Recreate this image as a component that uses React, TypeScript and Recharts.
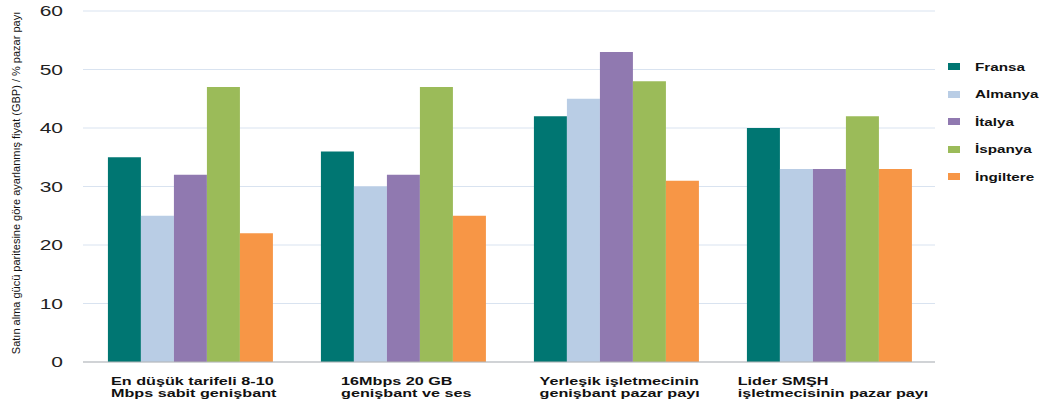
import React from "react";
import { BarChart, Bar, XAxis, YAxis, CartesianGrid, Legend, Label } from "recharts";

const categories = [
  ["En düşük tarifeli 8-10", "Mbps sabit genişbant"],
  ["16Mbps 20 GB", "genişbant ve ses"],
  ["Yerleşik işletmecinin", "genişbant pazar payı"],
  ["Lider SMŞH", "işletmecisinin pazar payı"],
];
const fransa = [35, 36, 42, 40];
const almanya = [25, 30, 45, 33];
const italya = [32, 32, 53, 33];
const ispanya = [47, 47, 48, 42];
const ingiltere = [22, 25, 31, 33];
const yTicks = [0, 10, 20, 30, 40, 50, 60];
const yLabel = "Satın alma gücü paritesine göre ayarlanmış fiyat (GBP) / % pazar payı";

const series = [
  { key: "fransa", name: "Fransa", color: "#007672", values: fransa },
  { key: "almanya", name: "Almanya", color: "#b9cde5", values: almanya },
  { key: "italya", name: "İtalya", color: "#9079b0", values: italya },
  { key: "ispanya", name: "İspanya", color: "#9bbb59", values: ispanya },
  { key: "ingiltere", name: "İngiltere", color: "#f79646", values: ingiltere },
];

const data = categories.map((c, i) => {
  const row: Record<string, any> = { cat: c.join(" "), idx: i };
  series.forEach((s) => (row[s.key] = s.values[i]));
  return row;
});

const FONT = "'Liberation Sans', Arial, sans-serif";
const SX = 1.5;

let ctx: CanvasRenderingContext2D | null = null;
function measure(text: string, font: string) {
  if (!ctx) ctx = document.createElement("canvas").getContext("2d");
  if (!ctx) return text.length * 6;
  ctx.font = font;
  return ctx.measureText(text).width;
}

const XTick = (props: any) => {
  const { x, y, payload } = props;
  const lines = categories[payload.index] || [payload.value];
  const font = `bold 10.5px ${FONT}`;
  const w = Math.max(...lines.map((l: string) => measure(l, font))) * SX;
  const left = x - w / 2 + 2;
  return (
    <g transform={`translate(${left},${y}) scale(${SX},1)`}>
      {lines.map((l: string, i: number) => (
        <text key={i} x={0} y={15 + i * 12} fontFamily={FONT} fontWeight="bold" fontSize={10.8} fill="#111">
          {l}
        </text>
      ))}
    </g>
  );
};

const YTick = (props: any) => {
  const { x, y, payload } = props;
  return (
    <g transform={`translate(${x},${y}) scale(${SX},1)`}>
      <text x={0} y={0} dy="0.36em" textAnchor="end" fontFamily={FONT} fontSize={14} fill="#222">
        {payload.value}
      </text>
    </g>
  );
};

const LegendContent = () => (
  <div style={{ fontFamily: FONT }}>
    {series.map((s) => (
      <div key={s.key} style={{ height: 27.5, display: "flex", alignItems: "center", position: "relative" }}>
        <div style={{ width: 12, height: 7, background: s.color, marginLeft: 2 }} />
        <div
          style={{
            position: "absolute",
            left: 29,
            fontSize: 10.5,
            fontWeight: "bold",
            color: "#111",
            transform: "scaleX(1.45)",
            transformOrigin: "left center",
            whiteSpace: "nowrap",
          }}
        >
          {s.name}
        </div>
      </div>
    ))}
  </div>
);

export default function App() {
  return (
    <div style={{ position: "absolute", left: 0, top: 0, width: 1047, height: 401, background: "#fff" }}>
      <BarChart
        width={1047}
        height={401}
        data={data}
        margin={{ top: 11, right: 12, bottom: 0, left: 0 }}
        barCategoryGap="11.7%"
        barGap={0}
      >
        <CartesianGrid vertical={false} stroke="#d9e3f0" xAxisId="cat" />
        <XAxis
          xAxisId="edges"
          type="number"
          domain={[0, 4]}
          ticks={[0, 1, 2, 3, 4]}
          allowDataOverflow
          height={0}
          tick={false}
          axisLine={false}
          tickLine={{ stroke: "#999" }}
          tickSize={5}
        />
        <XAxis
          xAxisId="cat"
          dataKey="cat"
          height={39}
          interval={0}
          axisLine={{ stroke: "#b5b5b5" }}
          tickLine={false}
          tick={<XTick />}
        />
        <YAxis
          domain={[0, 60]}
          ticks={yTicks}
          width={83}
          axisLine={false}
          tickLine={false}
          tickSize={0}
          tickMargin={20}
          tick={<YTick />}
        >
          <Label
            content={() => (
              <text
                x={16}
                y={183}
                transform="rotate(-90, 16, 183)"
                textAnchor="middle"
                dominantBaseline="central"
                fontFamily={FONT}
                fontSize={11}
                fill="#111"
              >
                {yLabel}
              </text>
            )}
          />
        </YAxis>
        <Legend
          layout="vertical"
          align="right"
          verticalAlign="top"
          content={<LegendContent />}
          wrapperStyle={{ left: 946, top: 53, right: "auto", width: 100 }}
        />
        {series.map((s) => (
          <Bar key={s.key} xAxisId="cat" dataKey={s.key} name={s.name} fill={s.color} isAnimationActive={false} />
        ))}
      </BarChart>
    </div>
  );
}
